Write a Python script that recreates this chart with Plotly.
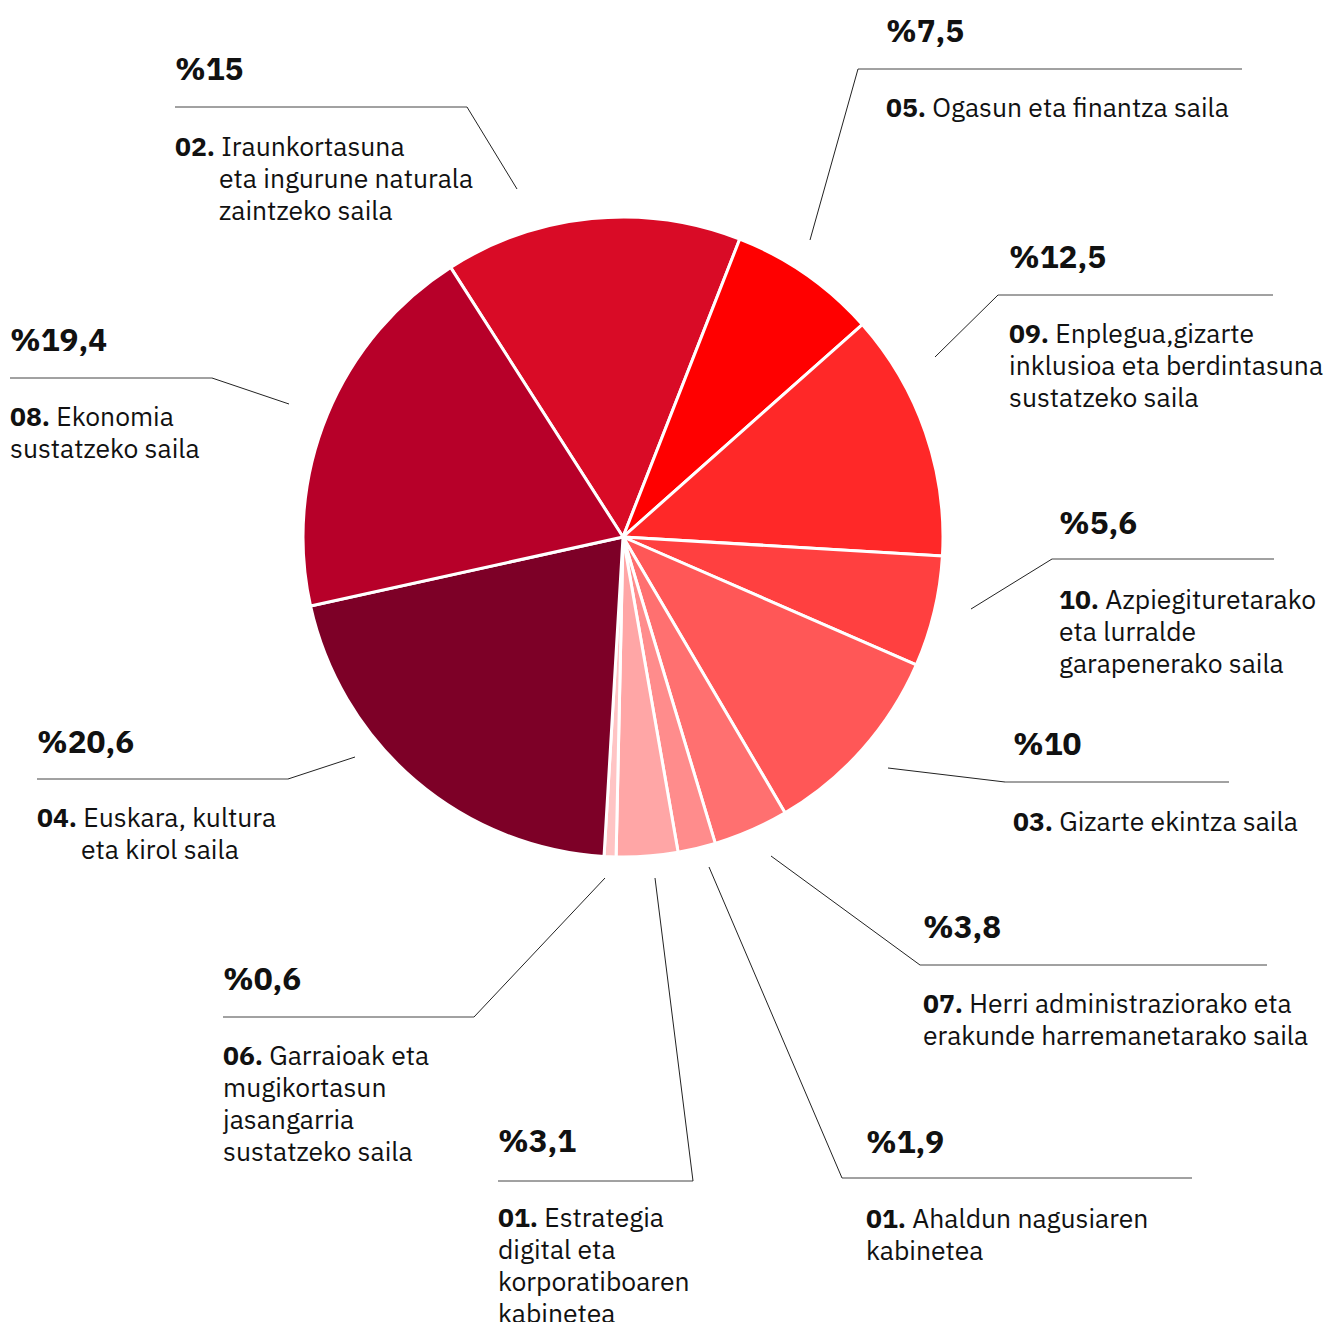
import plotly.graph_objects as go

W, H = 1328, 1322

# ---- data (clockwise from the top) ----
codes = ["02.", "05.", "09.", "10.", "03.", "07.", "01.", "01.", "06.", "04.", "08."]
name_lines = [
    ["Iraunkortasuna", "eta ingurune naturala", "zaintzeko saila"],
    ["Ogasun eta finantza saila"],
    ["Enplegua,gizarte", "inklusioa eta berdintasuna", "sustatzeko saila"],
    ["Azpiegituretarako", "eta lurralde", "garapenerako saila"],
    ["Gizarte ekintza saila"],
    ["Herri administraziorako eta", "erakunde harremanetarako saila"],
    ["Ahaldun nagusiaren", "kabinetea"],
    ["Estrategia", "digital eta", "korporatiboaren", "kabinetea"],
    ["Garraioak eta", "mugikortasun", "jasangarria", "sustatzeko saila"],
    ["Euskara, kultura", "eta kirol saila"],
    ["Ekonomia", "sustatzeko saila"],
]
values = [15, 7.5, 12.5, 5.6, 10, 3.8, 1.9, 3.1, 0.6, 20.6, 19.4]
colors = ["#D90B26", "#FF0000", "#FF2828", "#FF4040", "#FF5757", "#FF7070",
          "#FF8C8C", "#FFA6A6", "#FFC4C4", "#7D0027", "#B70029"]

# ---- label layout (pixels): text x, pct y, underline y, underline x0..x1,
#      leader end point, indent of continuation lines, first text line y
label_layout = [
    dict(tx=175, py=69,  uy=107, ux0=175, ux1=467, lx=517, ly=189, corner="right", ind=44, ty=146),
    dict(tx=886, py=30,  uy=69,  ux0=858, ux1=1242, lx=810, ly=240, corner="left", ind=0, ty=107),
    dict(tx=1009, py=256, uy=295, ux0=998, ux1=1273, lx=935, ly=357, corner="left", ind=0, ty=333),
    dict(tx=1059, py=522, uy=559, ux0=1052, ux1=1274, lx=971, ly=609, corner="left", ind=0, ty=599),
    dict(tx=1013, py=744, uy=782, ux0=1005, ux1=1229, lx=888, ly=768, corner="left", ind=0, ty=821),
    dict(tx=923, py=926, uy=965, ux0=920, ux1=1267, lx=771, ly=856, corner="left", ind=0, ty=1003),
    dict(tx=866, py=1141, uy=1178, ux0=842, ux1=1192, lx=709, ly=867, corner="left", ind=0, ty=1218),
    dict(tx=498, py=1140, uy=1181, ux0=498, ux1=693, lx=655, ly=878, corner="right", ind=0, ty=1217),
    dict(tx=223, py=978, uy=1017, ux0=223, ux1=474, lx=605, ly=878, corner="right", ind=0, ty=1055),
    dict(tx=37, py=741, uy=779, ux0=37, ux1=288, lx=355, ly=757, corner="right", ind=44, ty=817),
    dict(tx=10, py=339, uy=378, ux0=10, ux1=212, lx=289, ly=404, corner="right", ind=0, ty=416),
]

FONT = "IBM Plex Sans, Open Sans, Noto Sans, sans-serif"
LINE_H = 32

def px(x):
    return x / W

def py(y):
    return 1 - y / H

def pct_text(v):
    return "%" + f"{v:g}".replace(".", ",")

cx, cy, r = 623, 537, 320

fig = go.Figure(go.Pie(
    values=values,
    labels=[f"{c} {n[0]} ({i})" for i, (c, n) in enumerate(zip(codes, name_lines))],
    marker=dict(colors=colors, line=dict(color="white", width=3)),
    sort=False,
    direction="clockwise",
    rotation=-32.6,
    textinfo="none",
    hoverinfo="label+percent",
    domain=dict(x=[px(cx - r), px(cx + r)], y=[py(cy + r), py(cy - r)]),
    showlegend=False,
))

shapes = []
annotations = []
for code, lines, v, L in zip(codes, name_lines, values, label_layout):
    # underline
    shapes.append(dict(type="line", xref="paper", yref="paper",
                       x0=px(L["ux0"]), x1=px(L["ux1"]), y0=py(L["uy"]), y1=py(L["uy"]),
                       line=dict(color="#444444", width=1)))
    # leader
    corner_x = L["ux1"] if L["corner"] == "right" else L["ux0"]
    shapes.append(dict(type="line", xref="paper", yref="paper",
                       x0=px(corner_x), x1=px(L["lx"]), y0=py(L["uy"]), y1=py(L["ly"]),
                       line=dict(color="#222222", width=1)))
    # percentage
    annotations.append(dict(xref="paper", yref="paper", x=px(L["tx"] - 2), y=py(L["py"]),
                            text=f"<b>{pct_text(v)}</b>", showarrow=False,
                            xanchor="left", yanchor="middle",
                            font=dict(family=FONT, size=31.5, color="#111111")))
    # description lines
    for i, line in enumerate(lines):
        txt = f"<b>{code}</b> {line}" if i == 0 else line
        x = L["tx"] + (L["ind"] if i > 0 else 0)
        annotations.append(dict(xref="paper", yref="paper", x=px(x - 2), y=py(L["ty"] + i * LINE_H),
                                text=txt, showarrow=False,
                                xanchor="left", yanchor="middle",
                                font=dict(family=FONT, size=26.5, color="#111111")))

fig.update_layout(
    width=W, height=H,
    margin=dict(l=0, r=0, t=0, b=0),
    paper_bgcolor="white", plot_bgcolor="white",
    shapes=shapes, annotations=annotations,
)

fig.write_html("out.html", config={"displayModeBar": False},
               post_script="document.body.style.margin='0';")
